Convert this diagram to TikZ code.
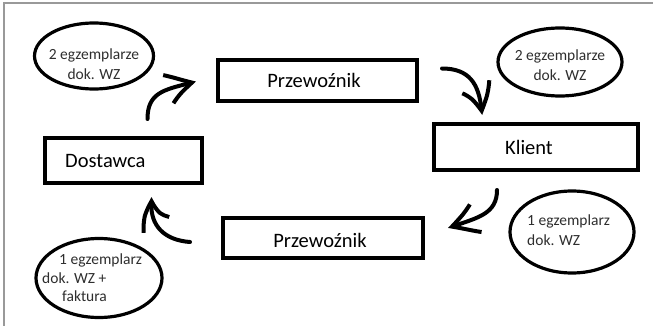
\documentclass[tikz,border=0pt]{standalone}
\usepackage{fontspec}
\setmainfont{Carlito}
\usetikzlibrary{shapes.geometric,arrows.meta,bending}
\tikzset{
  box/.style={draw=black, line width=4pt, rectangle, inner sep=0pt},
  bubble/.style={draw=black, line width=3.2pt, ellipse, inner sep=0pt},
  boxtext/.style={font=\fontsize{20.5}{24}\selectfont, text=black, inner sep=0pt},
  btext/.style={font=\fontsize{15.5}{19.5}\selectfont, text=black!82, inner sep=0pt},
  flow/.style={line width=4pt, line cap=round, -{Straight Barb[length=28pt,width=30pt,line width=4pt,bend]}},
  frame/.style={draw=black!40, line width=2pt}
}
\begin{document}
\begin{tikzpicture}[x=1pt,y=-1pt]
\useasboundingbox (0,0) rectangle (655,326);
\fill[white] (0,0) rectangle (655,326);
\draw[frame] (4,326) -- (4,3.5) -- (653,3.5);
% boxes
\node[box, minimum width=199pt, minimum height=41pt] (p1) at (317.5,80.5) {};
\node[boxtext] (p1t) at (314,80) {Przewoźnik};
\node[box, minimum width=204pt, minimum height=46pt] (kl) at (536,147) {};
\node[boxtext] (klt) at (529,147) {Klient};
\node[box, minimum width=157pt, minimum height=45pt] (ds) at (123.5,160.5) {};
\node[boxtext, anchor=west] (dst) at (65,161) {Dostawca};
\node[box, minimum width=200pt, minimum height=40pt] (p2) at (323,238) {};
\node[boxtext] (p2t) at (320,240) {Przewoźnik};
% bubbles
\node[bubble, minimum width=119pt, minimum height=66pt] (e1) at (94,56) {};
\node[btext, align=center] (e1t) at (94,64) {2 egzemplarze\\dok. WZ};
\node[bubble, minimum width=124pt, minimum height=68pt] (e2) at (560,62) {};
\node[btext, align=center] (e2t) at (560,65) {2 egzemplarze\\dok. WZ};
\node[bubble, minimum width=124pt, minimum height=82pt] (e3) at (572,232) {};
\node[btext, align=left, anchor=west] (e3t) at (527,230) {1 egzemplarz\\dok. WZ};
\node[bubble, minimum width=126pt, minimum height=79pt] (e4) at (99,278) {};
\node[btext, align=left, anchor=west, font=\fontsize{15.5}{18.5}\selectfont] (e4t) at (42,278) {\hspace*{17pt}1 egzemplarz\\dok. WZ +\\\hspace*{20pt}faktura};
% arrows
\coordinate (a1s) at ([xshift=24pt,yshift=17pt]ds.north);
\coordinate (a1e) at ([xshift=-20pt,yshift=-1pt]p1.west);
\draw[flow] (a1s) .. controls +(0,-28) and +(-30,8) .. (a1e);
\coordinate (a2s) at ([xshift=23pt,yshift=12pt]p1.east);
\coordinate (a2e) at ([xshift=-54pt,yshift=7pt]kl.north);
\draw[flow] (a2s) .. controls +(30,0) and +(-2,-28) .. (a2e);
\coordinate (a3s) at ([xshift=-39pt,yshift=-18pt]kl.south);
\coordinate (a3e) at ([xshift=23pt,yshift=10pt]p2.east);
\draw[flow] (a3s) .. controls +(0,25) and +(28,-10) .. (a3e);
\coordinate (a4s) at ([xshift=-31pt,yshift=-4pt]p2.west);
\coordinate (a4e) at ([xshift=28.5pt,yshift=-12pt]ds.south);
\draw[flow] (a4s) .. controls +(-28,-2) and +(-4,26) .. (a4e);
\end{tikzpicture}
\end{document}
